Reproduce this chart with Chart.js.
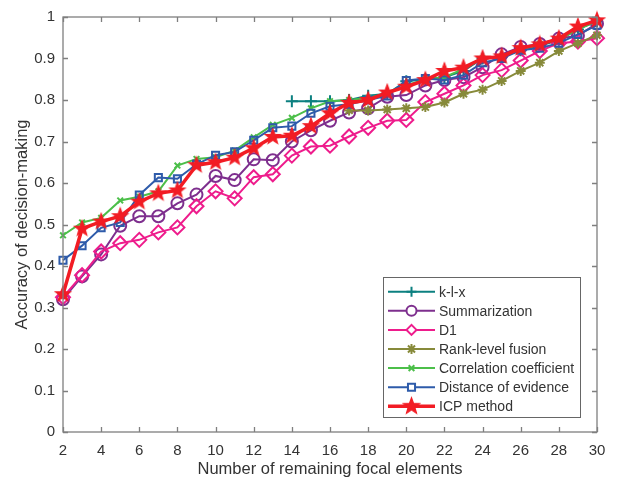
<!DOCTYPE html>
<html>
<head>
<meta charset="utf-8">
<script src="https://cdn.jsdelivr.net/npm/chart.js@4"></script>
<style>
  html, body { margin: 0; padding: 0; background: #fff; }
  canvas { display: block; }
</style>
</head>
<body>
<canvas id="accChart" width="628" height="486"></canvas>
<script>
// x positions: number of remaining focal elements
const focalCounts = [2, 3, 4, 5, 6, 7, 8, 9, 10, 11, 12, 13, 14, 15, 16, 17, 18, 19, 20, 21, 22, 23, 24, 25, 26, 27, 28, 29, 30];
const xTicks = [2, 4, 6, 8, 10, 12, 14, 16, 18, 20, 22, 24, 26, 28, 30];
const yTicks = [0, 0.1, 0.2, 0.3, 0.4, 0.5, 0.6, 0.7, 0.8, 0.9, 1];

// accuracy values (null = not plotted)
const klx = [null, null, null, null, null, null, null, null, null, null, null, null,
  0.797, 0.797, 0.797, 0.80, 0.81, 0.815, 0.845, 0.85, 0.855, 0.87, 0.90, 0.905, 0.92, 0.93, 0.945, 0.97, 0.99];
const summarization = [0.32, 0.375, 0.428, 0.497, 0.52, 0.52, 0.551, 0.572, 0.617, 0.607, 0.657, 0.655, 0.70, 0.727,
  0.75, 0.77, 0.78, 0.808, 0.812, 0.835, 0.848, 0.855, 0.879, 0.91, 0.928, 0.935, 0.948, 0.955, 0.984];
const d1 = [0.325, 0.378, 0.435, 0.455, 0.463, 0.481, 0.493, 0.544, 0.58, 0.563, 0.614, 0.621, 0.666, 0.688,
  0.69, 0.712, 0.733, 0.75, 0.752, 0.795, 0.815, 0.835, 0.86, 0.872, 0.895, 0.918, 0.937, 0.941, 0.949];
const rankFusion = [null, null, null, null, null, null, null, null, null, null, null, null, null, null, null,
  0.775, 0.775, 0.777, 0.78, 0.783, 0.794, 0.815, 0.825, 0.846, 0.87, 0.89, 0.918, 0.937, 0.956];
const correlation = [0.474, 0.505, 0.516, 0.558, 0.567, 0.58, 0.642, 0.658, 0.662, 0.678, 0.71, 0.74, 0.757, 0.78,
  0.797, 0.80, 0.805, 0.815, 0.835, 0.85, 0.855, 0.875, 0.90, 0.905, 0.92, 0.935, 0.945, 0.97, 0.99];
const distance = [0.414, 0.449, 0.492, 0.505, 0.571, 0.613, 0.61, 0.645, 0.667, 0.675, 0.703, 0.733, 0.737, 0.768,
  0.785, 0.79, 0.80, 0.81, 0.847, 0.852, 0.848, 0.86, 0.89, 0.90, 0.92, 0.925, 0.937, 0.958, 0.98];
const icp = [0.332, 0.49, 0.507, 0.52, 0.555, 0.575, 0.582, 0.643, 0.65, 0.661, 0.684, 0.711, 0.714, 0.737,
  0.768, 0.793, 0.80, 0.818, 0.832, 0.848, 0.87, 0.878, 0.90, 0.905, 0.925, 0.934, 0.948, 0.977, 0.992];

const axisGray = "#7f7f7f";
const textGray = "#333333";

// filled pentagram used for the ICP markers
function makeStar(r, color) {
  const size = Math.ceil(r * 2 + 4);
  const c = document.createElement("canvas");
  c.width = size; c.height = size;
  const g = c.getContext("2d");
  const cx = size / 2, cy = size / 2, inner = r * 0.42;
  g.beginPath();
  for (let i = 0; i < 10; i++) {
    const rad = i % 2 === 0 ? r : inner;
    const a = -Math.PI / 2 + i * Math.PI / 5;
    const px = cx + rad * Math.cos(a), py = cy + rad * Math.sin(a);
    if (i === 0) g.moveTo(px, py); else g.lineTo(px, py);
  }
  g.closePath();
  g.fillStyle = color;
  g.fill();
  g.lineWidth = 1.2;
  g.strokeStyle = color;
  g.stroke();
  return c;
}
const starMarker = makeStar(8, "#f21c24");
const legendStar = makeStar(8.5, "#f21c24");

function toPoints(values) {
  return values.map((v, i) => ({ x: focalCounts[i], y: v }));
}

const series = [
  { label: "k-l-x", data: klx, color: "#0c8080", style: "cross", radius: 6, width: 2 },
  { label: "Summarization", data: summarization, color: "#7e2f8e", style: "circle", radius: 6, width: 2 },
  { label: "D1", data: d1, color: "#ee1c8c", style: "rectRot", radius: 7, width: 2 },
  { label: "Rank-level fusion", data: rankFusion, color: "#878a3a", style: "star", radius: 5, width: 2 },
  { label: "Correlation coefficient", data: correlation, color: "#4cbf4a", style: "crossRot", radius: 4, width: 2 },
  { label: "Distance of evidence", data: distance, color: "#2e5baa", style: "rect", radius: 5, width: 2 },
  { label: "ICP method", data: icp, color: "#f21c24", style: starMarker, radius: 8, width: 3.5 },
];

const datasets = series.map((s, i) => ({
  label: s.label,
  data: toPoints(s.data),
  borderColor: s.color,
  backgroundColor: s.color,
  borderWidth: s.width,
  pointStyle: s.style,
  pointRadius: s.radius,
  pointBorderColor: s.color,
  pointBackgroundColor: "rgba(0,0,0,0)",
  pointBorderWidth: 2,
  tension: 0,
  spanGaps: false,
  clip: false,
  order: series.length - 1 - i,
}));

// inward ticks, box and legend drawn in MATLAB style
const boxPlugin = {
  id: "matlabBox",
  afterDraw(chart) {
    const ctx = chart.ctx;
    const a = chart.chartArea;
    const xs = chart.scales.x, ys = chart.scales.y;
    ctx.save();
    ctx.strokeStyle = axisGray;
    ctx.lineWidth = 1.3;
    ctx.strokeRect(a.left, a.top, a.right - a.left, a.bottom - a.top);
    ctx.beginPath();
    xTicks.forEach(t => {
      const px = Math.round(xs.getPixelForValue(t)) + 0.5;
      ctx.moveTo(px, a.bottom); ctx.lineTo(px, a.bottom - 5);
      ctx.moveTo(px, a.top); ctx.lineTo(px, a.top + 5);
    });
    yTicks.forEach(t => {
      const py = Math.round(ys.getPixelForValue(t)) + 0.5;
      ctx.moveTo(a.left, py); ctx.lineTo(a.left + 5, py);
      ctx.moveTo(a.right, py); ctx.lineTo(a.right - 5, py);
    });
    ctx.stroke();

    // legend
    const lx = 383, ly = 277, lw = 197, lh = 140;
    ctx.fillStyle = "#ffffff";
    ctx.fillRect(lx, ly, lw, lh);
    ctx.strokeStyle = "#666666";
    ctx.lineWidth = 1;
    ctx.strokeRect(lx + 0.5, ly + 0.5, lw, lh);
    ctx.font = "14px 'Liberation Sans', Arial, sans-serif";
    ctx.textBaseline = "middle";
    ctx.textAlign = "left";
    series.forEach((s, i) => {
      const y = 291.7 + i * 19.1;
      ctx.strokeStyle = s.color;
      ctx.lineWidth = s.width;
      ctx.beginPath();
      ctx.moveTo(388, y); ctx.lineTo(435, y);
      ctx.stroke();
      const isStar = s.style === starMarker;
      const r = isStar ? 8.5 : Math.min(s.radius, 5);
      ctx.lineWidth = 2;
      ctx.fillStyle = "#ffffff";
      Chart.helpers.drawPoint(ctx, { pointStyle: isStar ? legendStar : s.style, radius: r, rotation: 0, borderWidth: 2 }, 411.5, y);
      ctx.fillStyle = textGray;
      ctx.fillText(s.label, 439, y + 1);
    });
    ctx.restore();
  }
};

Chart.defaults.font.family = "'Liberation Sans', Arial, Helvetica, sans-serif";
Chart.defaults.color = textGray;

new Chart(document.getElementById("accChart").getContext("2d"), {
  type: "line",
  data: { datasets: datasets },
  options: {
    responsive: false,
    animation: false,
    layout: { padding: { top: 5, right: 31, left: 0, bottom: 0 }, autoPadding: false },
    scales: {
      x: {
        type: "linear",
        min: 2,
        max: 30,
        afterFit: (scale) => { scale.height = 54; },
        afterBuildTicks: (scale) => { scale.ticks = xTicks.map(v => ({ value: v })); },
        grid: { display: false, drawTicks: false },
        border: { display: false },
        ticks: { font: { size: 15 }, color: textGray, padding: 10, maxRotation: 0 },
        title: { display: true, text: "Number of remaining focal elements", font: { size: 16.5 }, color: textGray, padding: { top: 2, bottom: 7 } },
      },
      y: {
        min: 0,
        max: 1,
        afterFit: (scale) => { scale.width = 63; },
        afterBuildTicks: (scale) => { scale.ticks = yTicks.map(v => ({ value: v })); },
        grid: { display: false, drawTicks: false },
        border: { display: false },
        ticks: { font: { size: 15 }, color: textGray, padding: 8, callback: (v) => String(Math.round(v * 10) / 10) },
        title: { display: true, text: "Accuracy of decision-making", font: { size: 16.5 }, color: textGray, padding: { top: 13, bottom: 0 } },
      },
    },
    plugins: {
      legend: { display: false },
      tooltip: { enabled: false },
    },
  },
  plugins: [boxPlugin],
});
</script>
</body>
</html>
